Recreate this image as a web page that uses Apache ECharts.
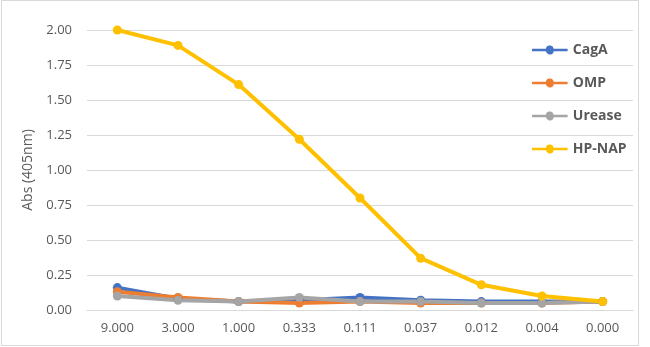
<!DOCTYPE html>
<html><head><meta charset="utf-8">
<script src="https://cdn.jsdelivr.net/npm/echarts@6/dist/echarts.min.js"></script>
<style>html,body{margin:0;padding:0;background:#fff}#c{width:650px;height:347px}</style>
</head><body><div id="c"></div>
<script>
const categories = ['9.000','3.000','1.000','0.333','0.111','0.037','0.012','0.004','0.000'];
const cagA   = [0.16, 0.08, 0.06, 0.07, 0.09, 0.07, 0.06, 0.06, 0.06];
const omp    = [0.13, 0.09, 0.06, 0.05, 0.06, 0.05, 0.05, 0.05, 0.06];
const urease = [0.10, 0.07, 0.06, 0.09, 0.06, 0.06, 0.05, 0.05, 0.06];
const hpnap  = [2.00, 1.89, 1.61, 1.22, 0.80, 0.37, 0.18, 0.10, 0.06];
const seriesNames = ['CagA','OMP','Urease','HP-NAP'];
const colors = ['#4472C4','#ED7D31','#A5A5A5','#FFC000'];
const values = [cagA, omp, urease, hpnap];
const font = 'Open Sans';
const chart = echarts.init(document.getElementById('c'));
chart.setOption({
  animation:false,
  textStyle:{fontFamily:font},
  graphic:[{type:'rect',shape:{x:1.5,y:0.5,width:637,height:345},style:{fill:'none',stroke:'#d9d9d9',lineWidth:1}}],
  grid:{left:87,right:17,top:30,bottom:37},
  legend:{orient:'vertical',left:527,top:38,itemGap:19,itemWidth:40,itemHeight:9,
    textStyle:{color:'#595959',fontSize:14,fontWeight:'bold',fontFamily:font,padding:[0,0,0,-2]},
    data:seriesNames.map(n=>({name:n,icon:'path://M0,3L15.6,3A4.5,4.5,0,0,1,24.4,3L40,3L40,6L24.4,6A4.5,4.5,0,0,1,15.6,6L0,6Z'}))},
  xAxis:{type:'category',data:categories,boundaryGap:true,
    axisLine:{lineStyle:{color:'#d9d9d9'}},axisTick:{show:false},
    axisLabel:{color:'#595959',fontSize:13,margin:12}},
  yAxis:{type:'value',min:0,max:2,interval:0.25,name:'Abs (405nm)',nameLocation:'middle',nameGap:52,
    nameTextStyle:{color:'#595959',fontSize:14},
    axisLabel:{color:'#595959',fontSize:13,margin:15,formatter:v=>v.toFixed(2)},
    splitLine:{lineStyle:{color:'#d9d9d9'}}},
  series:values.map((d,i)=>({name:seriesNames[i],type:'line',data:d,color:colors[i],
    symbol:'circle',symbolSize:9,lineStyle:{width:4,color:colors[i]},itemStyle:{color:colors[i]}}))
});
</script></body></html>
